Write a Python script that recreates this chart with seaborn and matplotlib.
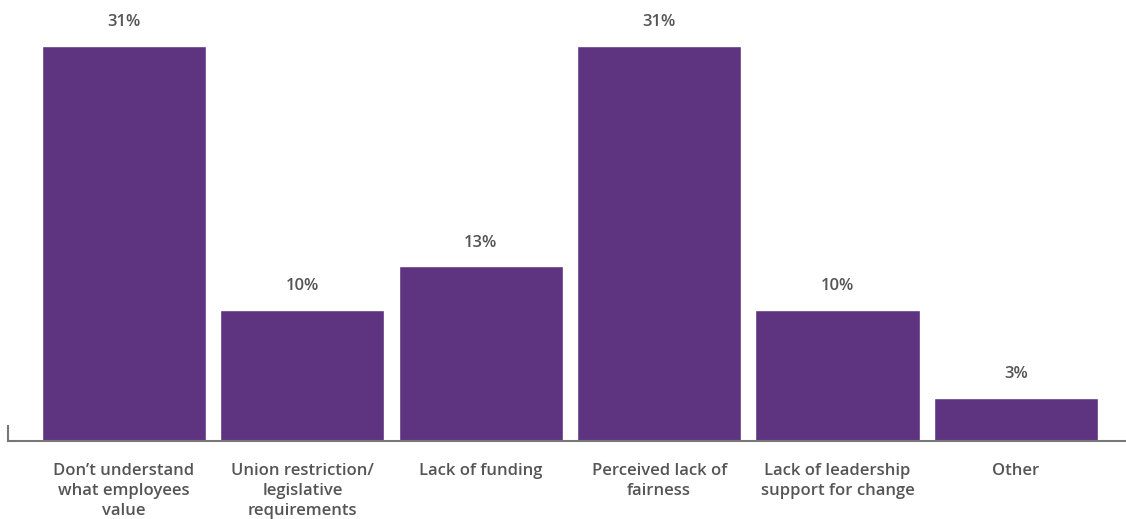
import matplotlib
matplotlib.use("Agg")
import matplotlib.pyplot as plt
import seaborn as sns
import pandas as pd

# Data
categories = [
    "Don\u2019t understand\nwhat employees\nvalue",
    "Union restriction/\nlegislative\nrequirements",
    "Lack of funding",
    "Perceived lack of\nfairness",
    "Lack of leadership\nsupport for change",
    "Other",
]
values = [31, 10.3, 13.7, 31, 10.3, 3.4]
labels = ["31%", "10%", "13%", "31%", "10%", "3%"]

bar_color = "#5e3480"
text_color = "#555555"

sns.set_style("white")
plt.rcParams["font.family"] = ["Open Sans", "DejaVu Sans"]

df = pd.DataFrame({"category": categories, "value": values})

fig = plt.figure(figsize=(11.26, 5.19), dpi=100)
ax = fig.add_axes([8 / 1126, 78 / 519, 1 - 8 / 1126, 441 / 519])

sns.barplot(data=df, x="category", y="value", color=bar_color,
            saturation=1, width=0.92, ax=ax)

# value labels above the bars
for i, (v, lab) in enumerate(zip(values, labels)):
    ax.annotate(lab, (i, v), xytext=(0, 17), textcoords="offset points",
                ha="center", va="center", fontsize=12, fontweight="semibold",
                color=text_color)

ax.set_xlim(-0.65, 5.617)
ax.set_ylim(0, 34.6)
ax.set_xlabel("")
ax.set_ylabel("")
ax.set_yticks([])
ax.tick_params(axis="x", length=0, pad=16)
for t in ax.get_xticklabels():
    t.set_fontsize(12)
    t.set_fontweight("semibold")
    t.set_color(text_color)
    t.set_linespacing(1.32)
    t.set_verticalalignment("top")

for s in ["top", "right"]:
    ax.spines[s].set_visible(False)
ax.spines["bottom"].set_color("#777777")
ax.spines["bottom"].set_linewidth(1.5)
ax.spines["left"].set_color("#777777")
ax.spines["left"].set_linewidth(1.5)
ax.spines["left"].set_bounds(0, 1.2)

fig.savefig("out.png", dpi=100)
